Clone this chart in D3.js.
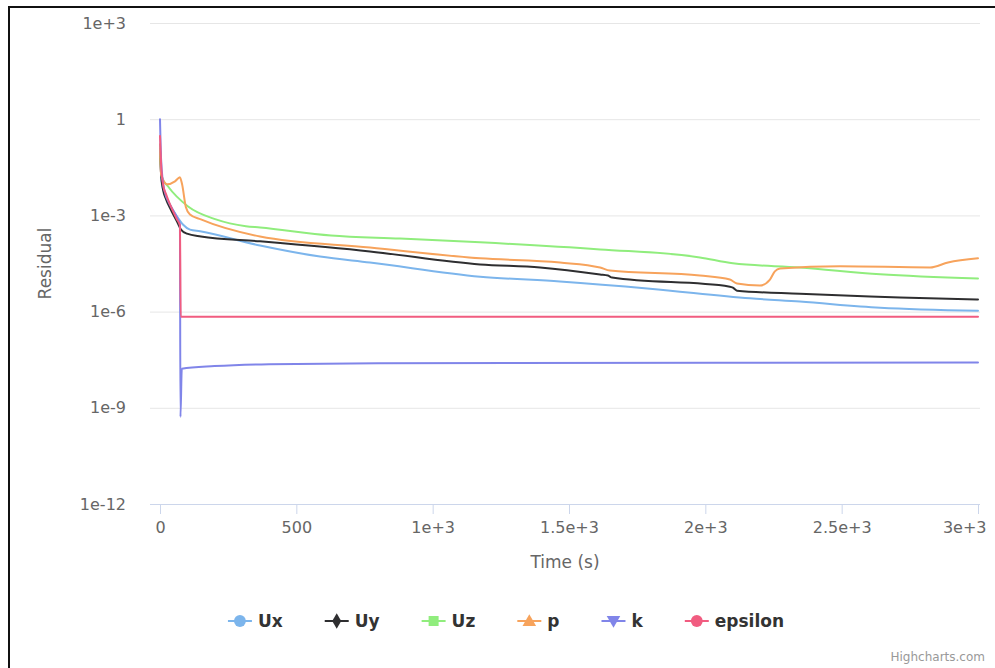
<!DOCTYPE html>
<html>
<head>
<meta charset="utf-8">
<script src="https://cdn.jsdelivr.net/npm/d3@7"></script>
<style>
  html, body { margin: 0; padding: 0; background: #fff; }
  svg { display: block; }
  text { font-family: "DejaVu Sans", "Liberation Sans", sans-serif; }
</style>
</head>
<body>
<svg id="chart" width="995" height="668"></svg>
<script>
// Residual history of the solver fields, [time (s), residual]
const uxPoints = [
  [0, 0.1], [7, 9.3e-3], [18, 4.6e-3], [40, 1.9e-3], [62, 9.3e-4], [84, 5.2e-4],
  [110, 3.6e-4], [147, 3.2e-4], [367, 1.15e-4], [587, 5.2e-5], [770, 3.4e-5],
  [1174, 1.23e-5], [1467, 8.7e-6], [1797, 5.2e-6], [2164, 2.6e-6], [2347, 2.05e-6],
  [2641, 1.33e-6], [3000, 1.07e-6]
];
const uyPoints = [
  [0, 0.115], [4, 0.019], [11, 6.5e-3], [22, 3.2e-3], [40, 1.5e-3], [62, 6.5e-4],
  [77, 3.6e-4], [99, 2.7e-4], [150, 2.2e-4], [367, 1.55e-4], [770, 7.5e-5],
  [1174, 2.95e-5], [1394, 2.37e-5], [1614, 1.44e-5], [1643, 1.33e-5], [1658, 1.15e-5],
  [2090, 6.0e-6], [2101, 5.6e-6], [2116, 4.5e-6], [2347, 3.6e-6], [2604, 2.95e-6],
  [2714, 2.75e-6], [3000, 2.37e-6]
];
const uzPoints = [
  [0, 0.115], [7, 0.0155], [29, 8.1e-3], [103, 1.9e-3], [205, 7.5e-4], [315, 4.6e-4],
  [367, 4.2e-4], [627, 2.37e-4], [880, 1.9e-4], [1174, 1.45e-4],
  [1614, 8.7e-5], [1980, 4.9e-5], [2101, 3.2e-5], [2347, 2.37e-5], [2641, 1.45e-5],
  [3000, 1.07e-5]
];
const pPoints = [
  [0, 0.166], [4, 0.019], [26, 9.3e-3], [55, 1.15e-2], [73, 1.55e-2], [81, 9.3e-3],
  [95, 1.8e-3], [110, 1.07e-3], [150, 7.5e-4], [367, 2.2e-4], [770, 1.0e-4],
  [1174, 4.6e-5], [1467, 3.4e-5], [1614, 2.37e-5], [1650, 1.9e-5], [1980, 1.33e-5],
  [2090, 1.0e-5], [2116, 7.5e-6], [2200, 6.5e-6], [2237, 1.0e-5], [2255, 1.8e-5],
  [2274, 2.2e-5], [2494, 2.6e-5], [2824, 2.37e-5], [2890, 3.4e-5], [3000, 4.6e-5]
];
const kPoints = [
  [0, 1], [4, 0.056], [15, 6.5e-3], [40, 1.9e-3], [66, 7.5e-4], [73, 5.2e-4],
  [75, 5.2e-10], [80, 1.66e-8], [200, 2.0e-8], [400, 2.3e-8], [800, 2.45e-8],
  [3000, 2.57e-8]
];
const epsilonPoints = [
  [0, 0.3], [4, 0.04], [11, 9.3e-3], [22, 4.6e-3], [40, 1.9e-3], [62, 7.5e-4],
  [73, 4.9e-4], [76, 6.9e-7], [3000, 6.9e-7]
];

const seriesNames = ["Ux", "Uy", "Uz", "p", "k", "epsilon"];
const seriesColors = ["#7cb5ec", "#2e2e30", "#90ed7d", "#f7a35c", "#8085e9", "#f15c80"];
const seriesSymbols = ["circle", "diamond", "square", "triangle", "triangle-down", "circle"];
const seriesData = [uxPoints, uyPoints, uzPoints, pPoints, kPoints, epsilonPoints];

const xTickValues = [0, 500, 1000, 1500, 2000, 2500, 3000];
const xTickLabels = ["0", "500", "1e+3", "1.5e+3", "2e+3", "2.5e+3", "3e+3"];
const yTickValues = [1e-12, 1e-9, 1e-6, 1e-3, 1, 1e3];
const yTickLabels = ["1e-12", "1e-9", "1e-6", "1e-3", "1", "1e+3"];

const svg = d3.select("#chart");
const W = 995, H = 668;

// plot frame
const plotLeft = 150, plotRight = 980, plotTop = 23, plotBottom = 504;

// outer frame (left and top edges)
svg.append("path")
  .attr("d", `M9,${H} L9,7 L${W},7`)
  .attr("fill", "none")
  .attr("stroke", "#111")
  .attr("stroke-width", 2);

const x = d3.scaleLinear().domain([0, 3000]).range([160, 978]);
const y = d3.scaleLog().domain([1e-12, 1e3]).range([plotBottom, plotTop]);

// y axis with gridlines
const yAxis = d3.axisLeft(y)
  .tickValues(yTickValues)
  .tickFormat((d, i) => yTickLabels[i])
  .tickSize(-(plotRight - plotLeft))
  .tickPadding(24);

const gy = svg.append("g")
  .attr("transform", `translate(${plotLeft},0)`)
  .call(yAxis);
gy.select(".domain").remove();
gy.selectAll(".tick line").attr("stroke", "#e6e6e6").attr("stroke-width", 1);
gy.selectAll(".tick text")
  .attr("fill", "#666")
  .style("font-size", "16px");

// x axis
const xAxis = d3.axisBottom(x)
  .tickValues(xTickValues)
  .tickFormat((d, i) => xTickLabels[i])
  .tickSize(10)
  .tickPadding(8);

const gx = svg.append("g")
  .attr("transform", `translate(0,${plotBottom})`)
  .call(xAxis);
gx.select(".domain")
  .attr("d", `M${plotLeft},0.5H${plotRight}`)
  .attr("stroke", "#ccd6eb");
gx.selectAll(".tick line").attr("stroke", "#ccd6eb");
gx.selectAll(".tick text")
  .attr("fill", "#666")
  .style("font-size", "16px");

// keep the last label inside the chart
gx.selectAll(".tick").each(function(d) {
  const t = d3.select(this).select("text");
  const bb = t.node().getBBox();
  const right = x(d) + bb.x + bb.width;
  if (right > 986) t.attr("x", -(right - 986));
});

// axis titles
svg.append("text")
  .attr("x", (plotLeft + plotRight) / 2)
  .attr("y", 568)
  .attr("text-anchor", "middle")
  .attr("fill", "#666")
  .style("font-size", "17px")
  .text("Time (s)");

svg.append("text")
  .attr("transform", `translate(51,${(plotTop + plotBottom) / 2}) rotate(-90)`)
  .attr("text-anchor", "middle")
  .attr("fill", "#666")
  .style("font-size", "17px")
  .text("Residual");

// series lines
const line = d3.line()
  .x(d => x(d[0]))
  .y(d => y(d[1]))
  .curve(d3.curveMonotoneX);

const gLines = svg.append("g");
seriesData.forEach((pts, i) => {
  gLines.append("path")
    .datum(pts)
    .attr("d", line)
    .attr("fill", "none")
    .attr("stroke", seriesColors[i])
    .attr("stroke-width", 2)
    .attr("stroke-linejoin", "round")
    .attr("stroke-linecap", "round");
});

// legend
const symbolTypes = {
  "circle": d3.symbolCircle,
  "diamond": d3.symbolDiamond,
  "square": d3.symbolSquare,
  "triangle": d3.symbolTriangle,
  "triangle-down": d3.symbolTriangle
};
const symbolSizes = { "circle": 110, "diamond": 70, "square": 100, "triangle": 80, "triangle-down": 80 };

const legendY = 621;
const gLegend = svg.append("g");
const items = [];
let cursor = 0;
seriesNames.forEach((name, i) => {
  const g = gLegend.append("g");
  g.append("line")
    .attr("x1", 0).attr("x2", 24)
    .attr("y1", 0).attr("y2", 0)
    .attr("stroke", seriesColors[i])
    .attr("stroke-width", 2);
  const sym = seriesSymbols[i];
  g.append("path")
    .attr("d", d3.symbol().type(symbolTypes[sym]).size(symbolSizes[sym])())
    .attr("transform", `translate(12,${sym === "triangle" ? 1 : (sym === "triangle-down" ? -1 : 0)})${sym === "triangle-down" ? " rotate(180)" : ""}`)
    .attr("fill", seriesColors[i]);
  const t = g.append("text")
    .attr("x", 30)
    .attr("y", 0)
    .attr("dy", "0.36em")
    .attr("fill", "#333")
    .style("font-size", "17px")
    .style("font-weight", "bold")
    .text(name);
  const w = 30 + t.node().getComputedTextLength();
  items.push({ g, offset: cursor });
  cursor += w + 42;
});
const legendWidth = cursor - 42;
const legendStart = 506 - legendWidth / 2;
items.forEach(it => it.g.attr("transform", `translate(${legendStart + it.offset},${legendY})`));

// credit
svg.append("text")
  .attr("x", 985)
  .attr("y", 661)
  .attr("text-anchor", "end")
  .attr("fill", "#999")
  .style("font-size", "12px")
  .text("Highcharts.com");
</script>
</body>
</html>
